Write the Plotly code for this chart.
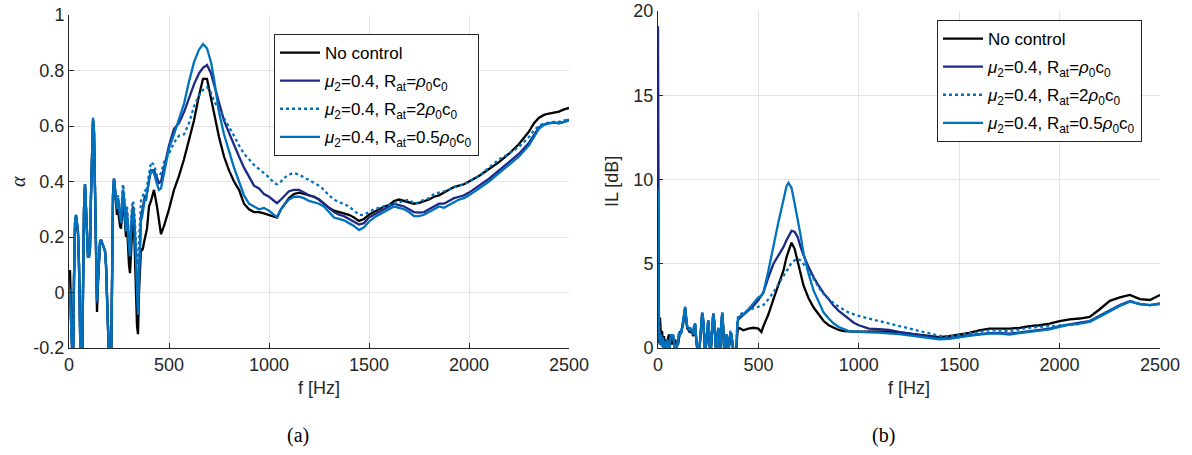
import plotly.graph_objects as go

# ---------------- data ----------------
F_LOW = [0, 5, 10, 15, 20, 25, 30, 35, 40, 45,
         50, 55, 60, 65, 70, 75, 80, 85, 90, 95,
         100, 105, 110, 115, 120, 125, 130, 135, 140, 145,
         150, 155, 160, 165, 170, 175, 180, 185, 190, 195,
         200, 205, 210, 215, 220, 225, 230, 235, 240, 245,
         250, 255, 260, 265, 270, 275, 280, 285, 290, 295,
         300, 305, 310, 315, 320, 325, 330, 335, 340, 345,
         350, 355, 360, 365, 370, 375, 380, 385, 390, 395,
         400]

F_HIGH_A = [410, 425, 440, 450, 460, 475,
            500, 525, 550, 575, 600, 625, 650,
            670, 690, 710, 725,
            750, 775, 800, 825, 850, 875, 900, 925, 950, 975, 1000,
            1025, 1040, 1060, 1080,
            1100, 1125, 1150, 1175, 1200, 1225, 1250, 1275, 1300, 1325, 1350, 1375,
            1400, 1425, 1450, 1475, 1500, 1525, 1550, 1575, 1600, 1625, 1650, 1675,
            1700, 1725, 1750, 1775, 1800, 1825, 1850, 1875, 1900, 1925, 1950, 1975, 2000,
            2050, 2100, 2150, 2200, 2250, 2300,
            2325, 2350, 2375, 2400, 2425, 2450, 2475, 2500]

# (a) absorption coefficient alpha
ALPHA_NOCTRL_LOW = [0.07, 0.08, -0.05, -0.30, -0.30, 0.05, 0.24, 0.27, 0.24, 0.21,
                    0.10, -0.30, -0.35, -0.30, 0.10, 0.30, 0.39, 0.30, 0.17, 0.13,
                    0.13, 0.16, 0.35, 0.50, 0.62, 0.58, 0.33, 0.05, -0.07, 0.03,
                    0.14, 0.18, 0.19, 0.18, 0.17, 0.16, 0.15, 0.10, -0.05, -0.25,
                    -0.35, -0.35, -0.30, 0.10, 0.35, 0.41, 0.36, 0.30, 0.28, 0.30,
                    0.26, 0.24, 0.23, 0.27, 0.33, 0.30, 0.24, 0.20, 0.24, 0.16,
                    0.10, 0.07, 0.15, 0.25, 0.28, 0.24, 0.15, 0.00, -0.12, -0.15,
                    0.00, 0.12, 0.16, 0.15, 0.16, 0.18, 0.20, 0.21, 0.23, 0.27,
                    0.31]
ALPHA_R1_LOW = [0.00, 0.01, -0.10, -0.30, -0.30, 0.05, 0.25, 0.28, 0.25, 0.22,
                0.10, -0.30, -0.35, -0.30, 0.10, 0.30, 0.39, 0.30, 0.17, 0.13,
                0.13, 0.16, 0.35, 0.50, 0.62, 0.58, 0.35, 0.10, -0.04, 0.05,
                0.15, 0.18, 0.19, 0.18, 0.17, 0.16, 0.15, 0.10, -0.05, -0.25,
                -0.35, -0.35, -0.30, 0.10, 0.35, 0.41, 0.37, 0.32, 0.30, 0.34,
                0.30, 0.27, 0.26, 0.31, 0.37, 0.34, 0.27, 0.24, 0.29, 0.21,
                0.17, 0.14, 0.23, 0.29, 0.31, 0.28, 0.21, 0.10, -0.03, -0.06,
                0.07, 0.21, 0.27, 0.29, 0.31, 0.33, 0.35, 0.34, 0.36, 0.38,
                0.40]
ALPHA_R2_LOW = [0.00, 0.01, -0.10, -0.30, -0.30, 0.05, 0.25, 0.28, 0.25, 0.22,
                0.10, -0.30, -0.35, -0.30, 0.10, 0.30, 0.39, 0.30, 0.17, 0.13,
                0.13, 0.16, 0.35, 0.50, 0.62, 0.58, 0.35, 0.10, -0.02, 0.05,
                0.15, 0.18, 0.19, 0.18, 0.17, 0.16, 0.15, 0.10, -0.05, -0.25,
                -0.35, -0.35, -0.30, 0.10, 0.35, 0.41, 0.38, 0.33, 0.31, 0.35,
                0.32, 0.28, 0.28, 0.33, 0.39, 0.36, 0.29, 0.26, 0.31, 0.24,
                0.20, 0.17, 0.26, 0.31, 0.33, 0.31, 0.25, 0.18, 0.10, 0.12,
                0.20, 0.28, 0.33, 0.34, 0.35, 0.36, 0.37, 0.36, 0.38, 0.40,
                0.42]
ALPHA_R05_LOW = [0.00, 0.01, -0.10, -0.30, -0.30, 0.05, 0.25, 0.28, 0.25, 0.22,
                 0.10, -0.30, -0.35, -0.30, 0.10, 0.30, 0.39, 0.30, 0.17, 0.13,
                 0.13, 0.16, 0.35, 0.50, 0.63, 0.58, 0.35, 0.10, -0.03, 0.05,
                 0.15, 0.18, 0.19, 0.18, 0.17, 0.16, 0.15, 0.10, -0.05, -0.25,
                 -0.35, -0.35, -0.30, 0.10, 0.35, 0.41, 0.37, 0.32, 0.30, 0.34,
                 0.30, 0.26, 0.25, 0.30, 0.37, 0.33, 0.26, 0.22, 0.28, 0.20,
                 0.16, 0.13, 0.22, 0.28, 0.30, 0.27, 0.20, 0.08, -0.05, -0.08,
                 0.05, 0.20, 0.26, 0.27, 0.30, 0.32, 0.34, 0.33, 0.36, 0.38,
                 0.41]

ALPHA_NOCTRL_HIGH = [0.33, 0.37, 0.31, 0.26, 0.21, 0.24,
                     0.30, 0.37, 0.42, 0.48, 0.55, 0.62, 0.71,
                     0.77, 0.77, 0.70, 0.64,
                     0.56, 0.49, 0.44, 0.40, 0.37, 0.32, 0.30, 0.29, 0.29, 0.285, 0.28,
                     0.275, 0.27, 0.30, 0.32,
                     0.34, 0.355, 0.36, 0.355, 0.35, 0.345, 0.335, 0.32, 0.305, 0.295, 0.29, 0.285,
                     0.28, 0.27, 0.258, 0.265, 0.28, 0.29, 0.30, 0.31, 0.315, 0.33, 0.335, 0.33,
                     0.325, 0.32, 0.323, 0.33, 0.335, 0.345, 0.35, 0.36, 0.37, 0.38, 0.385, 0.39, 0.40,
                     0.42, 0.445, 0.47, 0.50, 0.535, 0.58,
                     0.61, 0.63, 0.64, 0.645, 0.648, 0.652, 0.66, 0.665]
ALPHA_R1_HIGH = [0.44, 0.44, 0.41, 0.395, 0.40, 0.45,
                 0.53, 0.59, 0.61, 0.65, 0.70, 0.75, 0.79,
                 0.81, 0.82, 0.79, 0.75,
                 0.68, 0.62, 0.575, 0.53, 0.49, 0.45, 0.42, 0.385, 0.375, 0.355, 0.345,
                 0.33, 0.322, 0.335, 0.35,
                 0.365, 0.37, 0.37, 0.36, 0.35, 0.345, 0.335, 0.32, 0.305, 0.29, 0.28, 0.275,
                 0.265, 0.255, 0.245, 0.25, 0.27, 0.28, 0.29, 0.30, 0.31, 0.32, 0.315, 0.31,
                 0.30, 0.29, 0.288, 0.29, 0.30, 0.31, 0.32, 0.32, 0.33, 0.34, 0.345, 0.35, 0.36,
                 0.385, 0.41, 0.44, 0.47, 0.50, 0.54,
                 0.57, 0.595, 0.605, 0.61, 0.612, 0.61, 0.615, 0.623]
ALPHA_R2_HIGH = [0.47, 0.46, 0.42, 0.42, 0.43, 0.47,
                 0.50, 0.54, 0.565, 0.57, 0.61, 0.67, 0.71,
                 0.73, 0.74, 0.72, 0.69,
                 0.66, 0.63, 0.60, 0.565, 0.53, 0.50, 0.48, 0.46, 0.445, 0.43, 0.415,
                 0.395, 0.39, 0.40, 0.415,
                 0.425, 0.43, 0.425, 0.415, 0.405, 0.395, 0.385, 0.37, 0.35, 0.335, 0.325, 0.32,
                 0.31, 0.295, 0.28, 0.28, 0.29, 0.30, 0.305, 0.31, 0.315, 0.32, 0.325, 0.33,
                 0.335, 0.32, 0.325, 0.335, 0.34, 0.355, 0.36, 0.365, 0.37, 0.38, 0.385, 0.39, 0.40,
                 0.42, 0.45, 0.48, 0.50, 0.525, 0.56,
                 0.585, 0.60, 0.61, 0.612, 0.615, 0.615, 0.62, 0.625]
ALPHA_R05_HIGH = [0.44, 0.43, 0.39, 0.37, 0.375, 0.43,
                  0.52, 0.57, 0.625, 0.68, 0.76, 0.83, 0.875,
                  0.895, 0.88, 0.83, 0.77,
                  0.65, 0.57, 0.51, 0.45, 0.40, 0.35, 0.32, 0.31, 0.30, 0.305, 0.295,
                  0.28, 0.272, 0.30, 0.32,
                  0.335, 0.345, 0.345, 0.34, 0.33, 0.325, 0.32, 0.31, 0.29, 0.27, 0.265, 0.26,
                  0.25, 0.24, 0.225, 0.235, 0.255, 0.27, 0.28, 0.29, 0.30, 0.31, 0.305, 0.30,
                  0.29, 0.275, 0.275, 0.28, 0.29, 0.30, 0.31, 0.305, 0.315, 0.325, 0.335, 0.34, 0.35,
                  0.375, 0.40, 0.43, 0.46, 0.49, 0.53,
                  0.56, 0.59, 0.605, 0.61, 0.613, 0.61, 0.615, 0.62]

# (b) insertion loss IL [dB]
F_HIGH_B = [410, 425, 450, 475, 500, 515, 525, 550, 575, 600, 625, 640, 650, 665, 680, 695, 710, 725,
            750, 775, 800, 825, 850, 875, 900, 925, 950, 975, 1000,
            1050, 1100, 1150, 1200, 1250, 1300, 1350, 1400, 1450, 1500,
            1550, 1600, 1650, 1700, 1750, 1800, 1850, 1900, 1950, 2000,
            2050, 2100, 2150, 2200, 2250, 2300, 2350, 2400, 2450, 2500]

IL_NOCTRL_LOW = [0.3, 0.8, 1.8, 0.6, 1.0, 0.3, 0.7, 0.1, 0.5, 0.1,
                 0.6, 0.8, 0.4, 0.6, 0.2, 0.5, 0.3, 0.5, 0.2, 0.3,
                 0.2, 0.5, 1.0, 0.9, 1.1, 1.4, 1.9, 2.35, 1.7, 1.2,
                 1.1, 1.0, 1.1, 0.9, 1.0, 0.7, 1.2, 1.35, 0.5, -0.3,
                 -0.5, -0.3, 0.5, 1.5, 2.0, 1.6, 0.3, -0.3, 0.2, 1.1,
                 1.55, 0.8, -0.3, 0.1, 1.2, 1.95, 1.5, 0.1, -0.3, 0.4,
                 1.1, 0.5, -0.3, 1.3, 2.0, 1.1, -0.2, 0.1, 0.7, 0.5,
                 -0.3, 0.2, 0.8, 0.75, 0.1, -0.4, -0.6, -0.5, -0.3, 0.9,
                 1.2]
IL_R1_LOW = [19.1, 1.0, 0.2, 0.8, 0.1, 0.6, -0.3, 0.4, -0.2, 0.5,
             0.2, -0.2, 0.4, 0.8, 0.6, 0.8, 0.3, -0.3, -0.3, 0.2,
             0.6, 0.9, 0.8, 0.9, 1.2, 1.5, 2.0, 2.4, 1.8, 1.3,
             1.2, 1.1, 1.2, 1.0, 1.1, 0.8, 1.3, 1.45, 0.6, -0.3,
             -0.5, -0.3, 0.6, 1.6, 2.1, 1.7, 0.4, -0.3, 0.3, 1.2,
             1.65, 0.9, -0.3, 0.2, 1.3, 2.05, 1.6, 0.2, -0.3, 0.5,
             1.2, 0.6, -0.3, 1.4, 2.1, 1.2, -0.2, 0.2, 0.8, 0.6,
             -0.3, 0.3, 0.9, 0.85, 0.2, -0.4, -0.6, -0.5, -0.3, 1.4,
             1.7]
IL_R2_LOW = [3.5, 1.0, 0.2, 0.8, 0.1, 0.6, -0.3, 0.4, -0.2, 0.5,
             0.2, -0.2, 0.4, 0.8, 0.6, 0.8, 0.3, -0.3, -0.3, 0.2,
             0.6, 0.9, 0.8, 0.9, 1.2, 1.5, 2.0, 2.4, 1.8, 1.3,
             1.2, 1.1, 1.2, 1.0, 1.1, 0.8, 1.3, 1.45, 0.6, -0.3,
             -0.5, -0.3, 0.6, 1.6, 2.1, 1.7, 0.4, -0.3, 0.3, 1.2,
             1.65, 0.9, -0.3, 0.2, 1.3, 2.05, 1.6, 0.2, -0.3, 0.5,
             1.2, 0.6, -0.3, 1.4, 2.1, 1.2, -0.2, 0.2, 0.8, 0.6,
             -0.2, 0.4, 1.0, 0.95, 0.4, -0.3, -0.5, -0.4, -0.2, 1.6,
             1.9]
IL_R05_LOW = [9.4, 1.0, 0.2, 0.8, 0.1, 0.6, -0.3, 0.4, -0.2, 0.5,
              0.2, -0.2, 0.4, 0.8, 0.6, 0.8, 0.3, -0.3, -0.3, 0.2,
              0.6, 0.9, 0.8, 0.9, 1.2, 1.5, 2.0, 2.45, 1.8, 1.3,
              1.2, 1.1, 1.2, 1.0, 1.1, 0.8, 1.3, 1.45, 0.6, -0.3,
              -0.5, -0.3, 0.6, 1.6, 2.1, 1.7, 0.4, -0.3, 0.3, 1.2,
              1.66, 0.9, -0.3, 0.2, 1.3, 2.05, 1.6, 0.2, -0.3, 0.5,
              1.2, 0.6, -0.3, 1.4, 2.1, 1.2, -0.2, 0.2, 0.8, 0.6,
              -0.3, 0.3, 0.9, 0.85, 0.2, -0.4, -0.6, -0.5, -0.3, 1.5,
              1.8]

IL_NOCTRL_HIGH = [1.15, 1.05, 1.15, 1.2, 1.15, 0.95, 1.3, 2.0, 2.9, 3.7, 4.6, 5.4, 5.8, 6.25, 5.9, 5.2, 4.4, 3.7,
                  2.95, 2.4, 2.0, 1.6, 1.35, 1.2, 1.07, 1.0, 0.97, 0.97, 0.97,
                  0.98, 1.0, 0.98, 0.92, 0.85, 0.78, 0.7, 0.65, 0.7, 0.8,
                  0.9, 1.05, 1.15, 1.15, 1.15, 1.2, 1.3, 1.35, 1.45, 1.6,
                  1.7, 1.75, 1.85, 2.3, 2.8, 3.0, 3.15, 2.9, 2.85, 3.15]
IL_R1_HIGH = [1.8, 1.95, 2.2, 2.5, 2.85, 3.1, 3.3, 4.2, 5.0, 5.5, 6.0, 6.4, 6.6, 6.95, 6.9, 6.6, 6.0, 5.5,
              4.8, 4.2, 3.7, 3.25, 2.9, 2.5, 2.2, 1.95, 1.7, 1.5, 1.35,
              1.15, 1.12, 1.08, 0.95, 0.85, 0.75, 0.65, 0.58, 0.62, 0.7,
              0.75, 0.82, 0.88, 0.9, 0.85, 0.92, 1.0, 1.05, 1.15, 1.3,
              1.42, 1.5, 1.6, 1.9, 2.25, 2.55, 2.78, 2.6, 2.55, 2.65]
IL_R2_HIGH = [2.0, 2.1, 2.25, 2.35, 2.45, 2.5, 2.55, 2.9, 3.3, 3.8, 4.3, 4.6, 4.8, 5.05, 5.2, 5.3, 5.2, 5.0,
              4.6, 4.1, 3.6, 3.2, 2.9, 2.65, 2.45, 2.25, 2.1, 2.0, 1.9,
              1.75, 1.6, 1.45, 1.3, 1.15, 1.0, 0.85, 0.72, 0.68, 0.78,
              0.85, 0.95, 1.05, 1.05, 1.0, 1.1, 1.2, 1.25, 1.3, 1.32,
              1.38, 1.42, 1.6, 1.9, 2.25, 2.55, 2.8, 2.62, 2.55, 2.62]
IL_R05_HIGH = [1.9, 2.0, 2.3, 2.65, 3.0, 3.1, 3.3, 4.6, 6.1, 7.5, 8.8, 9.6, 9.8, 9.5, 8.6, 7.7, 6.7, 5.6,
               4.4, 3.4, 2.7, 2.1, 1.75, 1.45, 1.25, 1.1, 1.0, 0.98, 0.95,
               0.93, 0.92, 0.88, 0.82, 0.75, 0.68, 0.6, 0.52, 0.55, 0.65,
               0.72, 0.8, 0.86, 0.85, 0.8, 0.88, 0.95, 1.0, 1.1, 1.25,
               1.38, 1.45, 1.55, 1.85, 2.2, 2.5, 2.75, 2.6, 2.55, 2.6]

X_TICKS = [0, 500, 1000, 1500, 2000, 2500]
X_TICKTEXT = ["0", "500", "1000", "1500", "2000", "2500"]
A_TICKS = [-0.2, 0, 0.2, 0.4, 0.6, 0.8, 1]
A_TICKTEXT = ["-0.2", "0", "0.2", "0.4", "0.6", "0.8", "1"]
B_TICKS = [0, 5, 10, 15, 20]
B_TICKTEXT = ["0", "5", "10", "15", "20"]

NAMES = ["No control",
         "<i>μ</i><sub>2</sub>=0.4, R<sub>at</sub>=<i>ρ</i><sub>0</sub>c<sub>0</sub>",
         "<i>μ</i><sub>2</sub>=0.4, R<sub>at</sub>=2<i>ρ</i><sub>0</sub>c<sub>0</sub>",
         "<i>μ</i><sub>2</sub>=0.4, R<sub>at</sub>=0.5<i>ρ</i><sub>0</sub>c<sub>0</sub>"]

for lst in (ALPHA_NOCTRL_LOW, ALPHA_R1_LOW, ALPHA_R2_LOW, ALPHA_R05_LOW,
            IL_NOCTRL_LOW, IL_R1_LOW, IL_R2_LOW, IL_R05_LOW):
    assert len(lst) == len(F_LOW), len(lst)
for lst in (ALPHA_NOCTRL_HIGH, ALPHA_R1_HIGH, ALPHA_R2_HIGH, ALPHA_R05_HIGH):
    assert len(lst) == len(F_HIGH_A), len(lst)
for lst in (IL_NOCTRL_HIGH, IL_R1_HIGH, IL_R2_HIGH, IL_R05_HIGH):
    assert len(lst) == len(F_HIGH_B), len(lst)

# ---------------- styling ----------------
COLORS = ["#000000", "#1c2a86", "#0072bd", "#0072bd"]
DASHES = ["solid", "solid", "dot", "solid"]
LW = 2.3
W, H = 1192, 455
AXC = "#262626"
GRID = "#e3e3e3"
SANS = "Liberation Sans, Arial, sans-serif"
SERIF = "Liberation Serif, DejaVu Serif, serif"

fig = go.Figure()

alpha_sets = [(ALPHA_NOCTRL_LOW, ALPHA_NOCTRL_HIGH), (ALPHA_R1_LOW, ALPHA_R1_HIGH),
              (ALPHA_R2_LOW, ALPHA_R2_HIGH), (ALPHA_R05_LOW, ALPHA_R05_HIGH)]
il_sets = [(IL_NOCTRL_LOW, IL_NOCTRL_HIGH), (IL_R1_LOW, IL_R1_HIGH),
           (IL_R2_LOW, IL_R2_HIGH), (IL_R05_LOW, IL_R05_HIGH)]

for i, (lo, hi) in enumerate(alpha_sets):
    fig.add_trace(go.Scatter(x=F_LOW + F_HIGH_A, y=lo + hi, mode="lines", name=NAMES[i],
                             legendgroup="a%d" % i,
                             line=dict(color=COLORS[i], width=LW, dash=DASHES[i]),
                             xaxis="x", yaxis="y", legend="legend"))
for i, (lo, hi) in enumerate(il_sets):
    fig.add_trace(go.Scatter(x=F_LOW + F_HIGH_B, y=lo + hi, mode="lines", name=NAMES[i],
                             legendgroup="b%d" % i,
                             line=dict(color=COLORS[i], width=LW, dash=DASHES[i]),
                             xaxis="x2", yaxis="y2", legend="legend2"))

def px_x(p):
    return p / W

def px_y(p):
    return 1 - p / H

axis_common = dict(showline=True, linecolor=AXC, linewidth=1, mirror=False,
                   ticks="inside", ticklen=5, tickcolor=AXC, tickwidth=1,
                   showgrid=True, gridcolor=GRID, gridwidth=1, zeroline=False,
                   automargin=False,
                   tickfont=dict(family=SANS, size=18, color=AXC))

LEG = dict(xanchor="left", yanchor="top", bgcolor="white", bordercolor=AXC, borderwidth=1,
           tracegroupgap=3, itemwidth=40, font=dict(family=SANS, size=17, color="black"))

fig.update_layout(
    width=W, height=H, margin=dict(l=0, r=0, t=0, b=0, autoexpand=False),
    paper_bgcolor="white", plot_bgcolor="white", showlegend=True,
    xaxis=dict(domain=[px_x(69), px_x(569)], range=[0, 2500], anchor="y",
               tickmode="array", tickvals=X_TICKS, ticktext=X_TICKTEXT, **axis_common),
    yaxis=dict(domain=[px_y(348), px_y(15)], range=[-0.2, 1], anchor="x",
               tickmode="array", tickvals=A_TICKS, ticktext=A_TICKTEXT, **axis_common),
    xaxis2=dict(domain=[px_x(658), px_x(1160)], range=[0, 2500], anchor="y2",
                tickmode="array", tickvals=X_TICKS, ticktext=X_TICKTEXT, **axis_common),
    yaxis2=dict(domain=[px_y(348), px_y(11)], range=[0, 20], anchor="x2",
                tickmode="array", tickvals=B_TICKS, ticktext=B_TICKTEXT, **axis_common),
    legend=dict(x=px_x(274), y=px_y(34), **LEG),
    legend2=dict(x=px_x(937), y=px_y(20), **LEG),
)

ann = [
    dict(text="f [Hz]", x=px_x(319), y=px_y(388), font=dict(family=SANS, size=18, color=AXC)),
    dict(text="f [Hz]", x=px_x(909), y=px_y(388), font=dict(family=SANS, size=18, color=AXC)),
    dict(text="(a)", x=px_x(298), y=px_y(435), font=dict(family=SERIF, size=20, color="black")),
    dict(text="(b)", x=px_x(883), y=px_y(435), font=dict(family=SERIF, size=20, color="black")),
    dict(text="<i>α</i>", x=px_x(18), y=px_y(182), textangle=-90,
         font=dict(family=SERIF, size=20, color=AXC)),
    dict(text="IL [dB]", x=px_x(612), y=px_y(182), textangle=-90,
         font=dict(family=SANS, size=18, color=AXC)),
]
for a in ann:
    fig.add_annotation(xref="paper", yref="paper", showarrow=False,
                       xanchor="center", yanchor="middle", **a)

fig.write_html("out.html", config={"displayModeBar": False},
               post_script="document.body.style.margin='0';document.body.style.overflow='hidden';")
